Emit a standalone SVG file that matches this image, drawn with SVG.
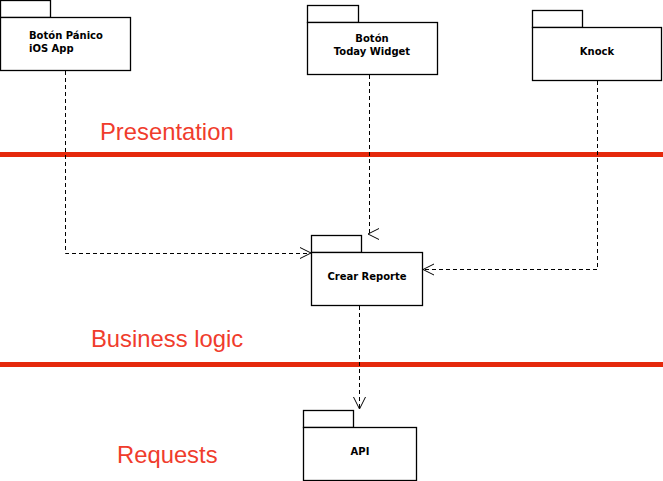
<svg xmlns="http://www.w3.org/2000/svg" width="663" height="481" viewBox="0 0 663 481">
<style>
.box{fill:#fff;stroke:#000;stroke-width:1.3}
.lbl{font-family:"DejaVu Sans",Verdana,sans-serif;font-weight:bold;font-size:10px;fill:#000}
.layer{font-family:"Liberation Sans",Arial,sans-serif;font-size:23.8px;fill:#f03c2c}
.sep{stroke:#e5290c;stroke-width:5}
.dash{fill:none;stroke:#000;stroke-width:1;stroke-dasharray:4,3}
.head{fill:none;stroke:#000;stroke-width:1}
</style>
<rect width="663" height="481" fill="#fff"/>
<g id="separators">
<line class="sep" x1="0" y1="154.5" x2="663" y2="154.5"/>
<line class="sep" x1="0" y1="364.5" x2="663" y2="364.5"/>
</g>
<g id="layer-labels">
<text class="layer" x="100" y="140">Presentation</text>
<text class="layer" x="91" y="347">Business logic</text>
<text class="layer" x="117" y="463">Requests</text>
</g>
<g id="node-boton-panico">
<rect class="box" x="0.5" y="0.5" width="50" height="17"/>
<rect class="box" x="0.5" y="17.5" width="130" height="53"/>
<text class="lbl" x="29" y="39">Botón Pánico</text>
<text class="lbl" x="29" y="52">iOS App</text>
</g>
<g id="node-boton-today">
<rect class="box" x="307.5" y="5.5" width="51" height="17"/>
<rect class="box" x="307.5" y="22.5" width="130" height="52"/>
<text class="lbl" x="372" y="42" text-anchor="middle">Botón</text>
<text class="lbl" x="372" y="55" text-anchor="middle">Today Widget</text>
</g>
<g id="node-knock">
<rect class="box" x="532.5" y="10.5" width="50" height="17"/>
<rect class="box" x="532.5" y="27.5" width="129" height="53"/>
<text class="lbl" x="597" y="55" text-anchor="middle">Knock</text>
</g>
<g id="node-crear-reporte">
<rect class="box" x="311.5" y="235.5" width="50" height="17"/>
<rect class="box" x="311.5" y="252.5" width="111" height="53"/>
<text class="lbl" x="367" y="280" text-anchor="middle">Crear Reporte</text>
</g>
<g id="node-api">
<rect class="box" x="303.5" y="410.5" width="50" height="17"/>
<rect class="box" x="303.5" y="427.5" width="113" height="53"/>
<text class="lbl" x="360" y="455" text-anchor="middle">API</text>
</g>
<g id="connectors">
<polyline class="dash" points="65.5,71 65.5,253.5 310,253.5"/>
<polyline class="head" points="300,247.5 311,253 300,258.5"/>
<line class="dash" x1="369.5" y1="75" x2="369.5" y2="233"/>
<polyline class="head" points="379,228.5 368,234 379,239.5"/>
<polyline class="dash" points="597.5,81 597.5,269.5 424,269.5"/>
<polyline class="head" points="434,264 423,269.5 434,275"/>
<line class="dash" x1="359.5" y1="306" x2="359.5" y2="408"/>
<polyline class="head" points="353.5,397 359.5,409 365.5,397"/>
</g>
</svg>
